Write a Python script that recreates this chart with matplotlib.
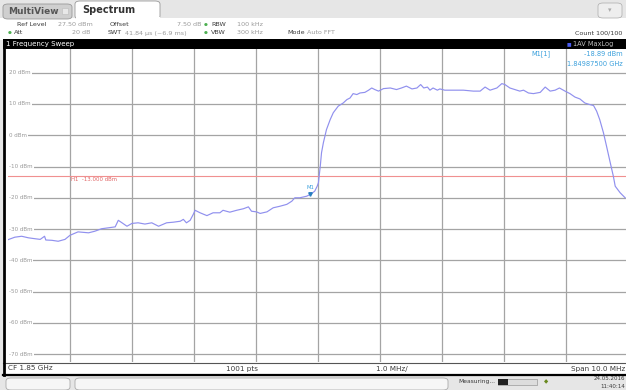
import matplotlib
matplotlib.use('Agg')
import matplotlib.pyplot as plt
from matplotlib.patches import Rectangle, FancyBboxPatch

W, H = 626, 390

#%% Data
freq_offset_mhz = [
    -5.00, -4.89, -4.78, -4.67, -4.56, -4.48, -4.41, -4.39, -4.29, -4.19,
    -4.08, -4.00, -3.87, -3.70, -3.60, -3.49, -3.38, -3.27, -3.22, -3.16,
    -3.08, -3.00, -2.90, -2.79, -2.68, -2.57, -2.44, -2.33, -2.22, -2.17,
    -2.12, -2.06, -2.01, -1.98, -1.90, -1.79, -1.69, -1.58, -1.53, -1.42,
    -1.31, -1.20, -1.12, -1.07, -0.99, -0.93, -0.82, -0.72, -0.61, -0.50,
    -0.42, -0.37, -0.29, -0.18, -0.12, -0.05, -0.01, 0.01, 0.04, 0.06,
    0.09, 0.14, 0.20, 0.25, 0.33, 0.41, 0.47, 0.52, 0.57, 0.63,
    0.68, 0.76, 0.82, 0.87, 0.92, 0.98, 1.06, 1.17, 1.27, 1.35,
    1.43, 1.52, 1.60, 1.66, 1.71, 1.77, 1.81, 1.86, 1.93, 1.97,
    2.05, 2.19, 2.35, 2.51, 2.62, 2.70, 2.78, 2.89, 2.97, 3.02,
    3.10, 3.18, 3.26, 3.32, 3.40, 3.48, 3.59, 3.67, 3.75, 3.83,
    3.90, 3.99, 4.07, 4.15, 4.23, 4.31, 4.39, 4.45, 4.50, 4.55,
    4.61, 4.66, 4.72, 4.77, 4.80, 4.88, 4.96,
]
level_dbm = [
    -33.4, -32.6, -32.3, -32.8, -33.1, -33.3, -32.3, -33.5, -33.6, -33.9,
    -33.3, -32.0, -30.9, -31.2, -30.7, -29.9, -29.6, -29.3, -27.2, -28.0,
    -29.1, -28.2, -28.0, -28.4, -28.0, -29.1, -28.0, -27.8, -27.5, -26.9,
    -28.0, -27.2, -25.3, -24.0, -24.8, -25.7, -24.8, -24.8, -24.0, -24.6,
    -24.0, -23.5, -22.9, -24.3, -24.5, -25.0, -24.5, -23.2, -22.7, -22.1,
    -21.1, -20.0, -20.0, -19.5, -18.9, -17.9, -16.3, -15.2, -9.9, -5.6,
    -2.4, 1.8, 5.0, 7.2, 9.3, 10.3, 11.4, 11.9, 13.3, 13.0,
    13.5, 13.7, 14.4, 15.1, 14.6, 14.1, 14.9, 15.1, 14.6, 15.1,
    15.7, 14.8, 15.1, 16.2, 15.1, 15.4, 14.4, 15.1, 14.4, 14.8,
    14.4, 14.4, 14.4, 14.1, 14.1, 15.4, 14.4, 15.1, 16.5, 16.2,
    15.1, 14.6, 14.1, 14.4, 13.5, 13.3, 13.7, 15.4, 14.1, 14.4,
    15.1, 14.1, 13.3, 12.2, 11.6, 10.3, 9.8, 9.5, 7.7, 5.0,
    0.8, -3.5, -8.8, -13.1, -16.3, -18.4, -20.0,
]
y_ticks_dbm = [20, 10, 0, -10, -20, -30, -40, -50, -60, -70]
x_ticks_mhz = [-4, -3, -2, -1, 0, 1, 2, 3, 4]
ref_level_dbm = 27.5
threshold_dbm = -13.0
marker_freq_mhz = -0.125
marker_level_dbm = -18.89

TRACE = '#9090ee'
GRID = '#a4a4a4'
LIGHT = '#9a9a9a'
DARK = '#3a3a3a'
BLUE = '#3ba0dc'
GREEN = '#4caf50'

fig = plt.figure(figsize=(W / 100, H / 100), dpi=100, facecolor='#e6e6e6')


def fx(x):
    return x / W


def fy(y):
    return 1 - y / H


def box(x0, y0, x1, y1, **kw):
    kw.setdefault('zorder', 0)
    fig.add_artist(Rectangle((fx(x0), fy(y1)), (x1 - x0) / W, (y1 - y0) / H,
                             transform=fig.transFigure, **kw))


def rbox(x0, y0, x1, y1, **kw):
    kw.setdefault('zorder', 0)
    fig.add_artist(FancyBboxPatch((fx(x0), fy(y1)), (x1 - x0) / W,
                                  (y1 - y0) / H,
                                  boxstyle='round,pad=0,rounding_size=0.008',
                                  transform=fig.transFigure, **kw))


def label(x, y, s, **kw):
    kw.setdefault('fontsize', 4.6)
    kw.setdefault('va', 'center')
    kw.setdefault('color', DARK)
    kw.setdefault('zorder', 6)
    fig.text(fx(x), fy(y), s, **kw)


#%% Tabs and header
box(0, 18, W, 39.5, facecolor='white', edgecolor='none')
rbox(3, 4, 72, 19, facecolor='#cfcfcf', edgecolor='#999999', lw=0.6)
label(8, 12, 'MultiView', fontsize=6.5, fontweight='bold', color='#555555')
box(62, 8, 68, 14, facecolor='#e8e8e8', edgecolor='#bbbbbb', lw=0.4,
    zorder=1)
rbox(75, 1, 160, 19, facecolor='white', edgecolor='#999999', lw=0.6)
box(75.5, 17, 159.5, 20, facecolor='white', edgecolor='none', zorder=1)
label(82, 10, 'Spectrum', fontsize=7, fontweight='bold', color='#333333')
rbox(598, 3, 622, 18, facecolor='#eeeeee', edgecolor='#aaaaaa', lw=0.5)
label(610, 10.5, '\u25be', fontsize=5, color='#aaaaaa', ha='center')

label(17, 25, 'Ref Level')
label(58, 25, f'{ref_level_dbm:.2f} dBm', color=LIGHT)
label(110, 25, 'Offset')
label(202, 25, '7.50 dB', color=LIGHT, ha='right')
label(211, 25, 'RBW')
label(237, 25, '100 kHz', color=LIGHT)
label(14, 33, 'Att')
label(91, 33, '20 dB', color=LIGHT, ha='right')
label(108, 33, 'SWT')
label(125, 33, '41.84 \u00b5s (~6.9 ms)', color=LIGHT)
label(211, 33, 'VBW')
label(237, 33, '300 kHz', color=LIGHT)
label(287, 33, 'Mode')
label(307, 33, 'Auto FFT', color=LIGHT)
label(622, 33, 'Count 100/100', ha='right')
for px, py in [(206, 25), (10, 33), (206, 33)]:
    label(px, py, '\u25cf', color=GREEN, fontsize=3.2, ha='center')

#%% Title bar and frame
box(3, 39.5, W, 48.5, facecolor='black', edgecolor='none')
label(6, 44, '1 Frequency Sweep', color='white', fontsize=5)
label(569, 44, '\u25a0', color='#4a5cf0', fontsize=3.5, ha='center')
label(573, 44, '1AV MaxLog', color='#bbbbbb', fontsize=4.8)
box(3, 48.5, W, 375, facecolor='white', edgecolor='none')

#%% Sweep plot
ax = fig.add_axes([fx(8), fy(362), (627.6 - 8) / W, (362 - 49.2) / H])
ax.set_zorder(3)
ax.patch.set_visible(False)
ax.set_xlim(-5, 5)
ax.set_ylim(ref_level_dbm - 100, ref_level_dbm)
ax.set_xticks(x_ticks_mhz)
ax.set_yticks(y_ticks_dbm)
ax.grid(color=GRID, lw=0.9)
ax.tick_params(length=0, labelleft=False, labelbottom=False)
for s in ax.spines.values():
    s.set_visible(False)

for v in y_ticks_dbm:
    ax.text(-4.99, v, f'{v} dBm', fontsize=4.1, color=LIGHT, va='center',
            bbox=dict(facecolor='white', edgecolor='none', pad=1.0), zorder=3)

ax.axhline(threshold_dbm, color='#f09090', lw=0.8, zorder=2)
ax.text(-3.98, threshold_dbm - 1.3, f'H1  {threshold_dbm:.3f} dBm',
        fontsize=3.9, color='#e06464', va='center')

ax.plot(freq_offset_mhz, level_dbm, color=TRACE, lw=0.85, zorder=4)
ax.plot([marker_freq_mhz], [marker_level_dbm], marker='v', ms=2.5,
        color='#2a7fc0', zorder=5)
ax.text(marker_freq_mhz, marker_level_dbm + 2.2, 'M1', fontsize=3.8,
        color=BLUE, ha='center', va='center', zorder=5)

label(531, 54, 'M1[1]', color=BLUE, fontsize=4.8)
label(623, 54, f'{marker_level_dbm:.2f} dBm', color=BLUE, fontsize=4.8,
      ha='right')
label(623, 64, '1.84987500 GHz', color=BLUE, fontsize=4.8, ha='right')

#%% Bottom bar
fig.add_artist(plt.Line2D([fx(3), fx(W)], [fy(362.5)] * 2,
                          transform=fig.transFigure, color='#555555', lw=0.8,
                          zorder=4))
label(8, 368.5, 'CF 1.85 GHz', fontsize=5.2)
label(226, 368.5, '1001 pts', fontsize=5.2)
label(376, 368.5, '1.0 MHz/', fontsize=5.2)
label(625, 368.5, 'Span 10.0 MHz', fontsize=5.2, ha='right')
fig.add_artist(plt.Line2D([fx(3.5), fx(3.5)], [fy(39.5), fy(375)],
                          transform=fig.transFigure, color='black', lw=2,
                          zorder=4))
fig.add_artist(plt.Line2D([fx(3), fx(W)], [fy(375)] * 2,
                          transform=fig.transFigure, color='black', lw=1.6,
                          zorder=4))

#%% Status bar
rbox(6, 378, 70, 390, facecolor='#f6f6f6', edgecolor='#aaaaaa', lw=0.6)
rbox(75, 378, 448, 390, facecolor='#f6f6f6', edgecolor='#aaaaaa', lw=0.6)
label(458, 382, 'Measuring...', fontsize=4.3)
box(498, 379, 537, 385, facecolor='#dddddd', edgecolor='#888888', lw=0.4)
box(498, 379, 508, 385, facecolor='#222222', edgecolor='none', zorder=1)
label(546, 382, '\u25c6', fontsize=4, color='#6a8a20', ha='center')
label(625, 379, '24.05.2016', fontsize=4, ha='right')
label(625, 386, '11:40:14', fontsize=4, ha='right')

fig.savefig('out.png', dpi=100, facecolor=fig.get_facecolor())
